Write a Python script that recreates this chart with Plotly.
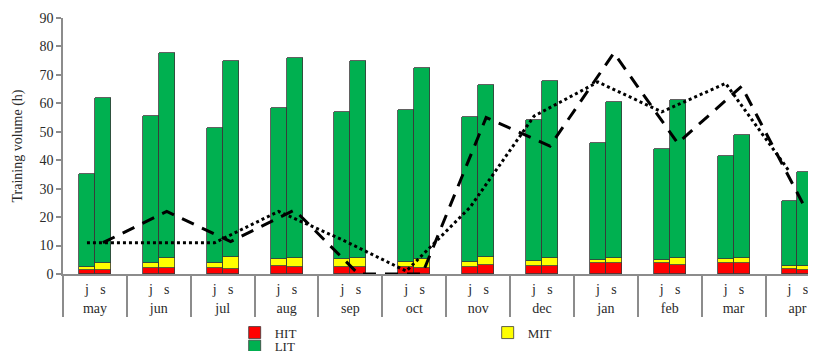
import plotly.graph_objects as go

months = ['may', 'jun', 'jul', 'aug', 'sep', 'oct', 'nov', 'dec', 'jan', 'feb', 'mar', 'apr']
sub_labels = ['j', 's']

hit_j = [1.3, 2.0, 2.0, 2.8, 2.6, 2.6, 2.6, 2.9, 3.9, 3.8, 3.9, 1.9]
mit_j = [1.0, 2.0, 2.0, 2.5, 2.7, 1.5, 1.5, 1.6, 1.1, 1.1, 1.5, 1.0]
lit_j = [32.7, 51.5, 47.5, 53.2, 51.7, 53.4, 51.2, 49.7, 41.2, 38.9, 36.2, 22.6]

hit_s = [1.4, 2.0, 1.8, 2.4, 2.4, 2.0, 3.2, 2.9, 3.9, 3.3, 3.9, 1.5]
mit_s = [2.3, 3.6, 4.2, 3.2, 3.2, 3.3, 2.8, 2.7, 1.9, 2.2, 1.9, 1.2]
lit_s = [58.3, 72.0, 69.0, 70.4, 69.2, 67.2, 60.3, 62.4, 54.7, 55.5, 43.0, 33.1]

line_j = [11.0, 11.0, 11.0, 22.0, 12.0, 1.0, 23.5, 55.5, 67.5, 57.0, 67.0, 36.0]
line_s = [11.0, 22.0, 11.4, 22.5, 0.0, 0.0, 55.0, 45.0, 77.7, 46.0, 66.0, 23.0]

BAR_W = 0.25
idx = list(range(len(months)))
x_j = [i - BAR_W / 2 for i in idx]
x_s = [i + BAR_W / 2 for i in idx]
x_bars = x_j + x_s
bounds = [i - 0.5 for i in idx] + [len(months) - 0.5]

FONT = "Liberation Serif"
TXT = "#2a2a2a"
AX = "#8c8c8c"
OUTLINE = dict(color="#3a3a3a", width=0.8)

fig = go.Figure()
for name, vj, vs, col, lg in [("HIT", hit_j, hit_s, "#FF0000", "legend"),
                              ("MIT", mit_j, mit_s, "#FFFF00", "legend"),
                              ("LIT", lit_j, lit_s, "#00B050", "legend2")]:
    fig.add_trace(go.Bar(x=x_bars, y=vj + vs, width=BAR_W, name=name, legend=lg,
                         marker=dict(color=col, line=OUTLINE)))

fig.add_trace(go.Scatter(x=x_j, y=line_j, mode="lines", showlegend=False,
                         line=dict(color="black", width=3, dash="dot")))
fig.add_trace(go.Scatter(x=x_s, y=line_s, mode="lines", showlegend=False,
                         line=dict(color="black", width=3, dash="13px,9px")))

# helper traces to attach overlay axes (invisible)
fig.add_trace(go.Scatter(x=[bounds[0]], y=[None], xaxis="x2", showlegend=False, hoverinfo="skip"))
fig.add_trace(go.Scatter(x=[bounds[0]], y=[None], xaxis="x3", showlegend=False, hoverinfo="skip"))

LEG_X = 0.228
legend_common = dict(orientation="h", xanchor="left", yanchor="middle",
                     entrywidth=208, entrywidthmode="pixels", traceorder="normal",
                     font=dict(family=FONT, size=13, color=TXT),
                     itemwidth=30, tracegroupgap=0, bgcolor="rgba(0,0,0,0)")

xr = [-0.5, 11.29]
fig.update_layout(
    width=808, height=343,
    margin=dict(l=55, r=0, t=10, b=77, autoexpand=False),
    paper_bgcolor="white", plot_bgcolor="white",
    barmode="stack", bargap=0,
    font=dict(family=FONT, size=14, color=TXT),
    showlegend=True,
    legend=dict(x=LEG_X, y=-0.229, **legend_common),
    legend2=dict(x=LEG_X, y=-0.282, **legend_common),
    xaxis=dict(range=xr, tickmode="array", tickvals=x_bars, automargin=False,
               ticktext=[sub_labels[0]] * len(months) + [sub_labels[1]] * len(months),
               ticks="outside", ticklen=1, tickcolor="rgba(0,0,0,0)",
               showline=True, linecolor=AX, linewidth=1.5, showgrid=False,
               zeroline=False, tickfont=dict(family=FONT, size=14, color=TXT)),
    xaxis2=dict(range=xr, overlaying="x", anchor="y", side="bottom", automargin=False,
                tickmode="array", tickvals=bounds, ticks="outside", ticklen=42,
                tickcolor=AX, tickwidth=1.5, showticklabels=False,
                showline=False, showgrid=False, zeroline=False),
    xaxis3=dict(range=xr, overlaying="x", anchor="y", side="bottom", automargin=False,
                tickmode="array", tickvals=idx, ticktext=months,
                ticks="outside", ticklen=21, tickcolor="rgba(0,0,0,0)",
                showline=False, showgrid=False, zeroline=False,
                tickfont=dict(family=FONT, size=14, color=TXT)),
    yaxis=dict(range=[0, 90], dtick=10, tick0=0, ticks="outside", ticklen=5,
               automargin=False,
               tickcolor=AX, tickwidth=1.5, showline=True, linecolor=AX,
               linewidth=1.5, showgrid=False, zeroline=False,
               tickfont=dict(family=FONT, size=14, color=TXT),
               title=dict(text="Training volume (h)", standoff=14,
                          font=dict(family=FONT, size=14, color=TXT))),
)

fig.write_html("out.html")
